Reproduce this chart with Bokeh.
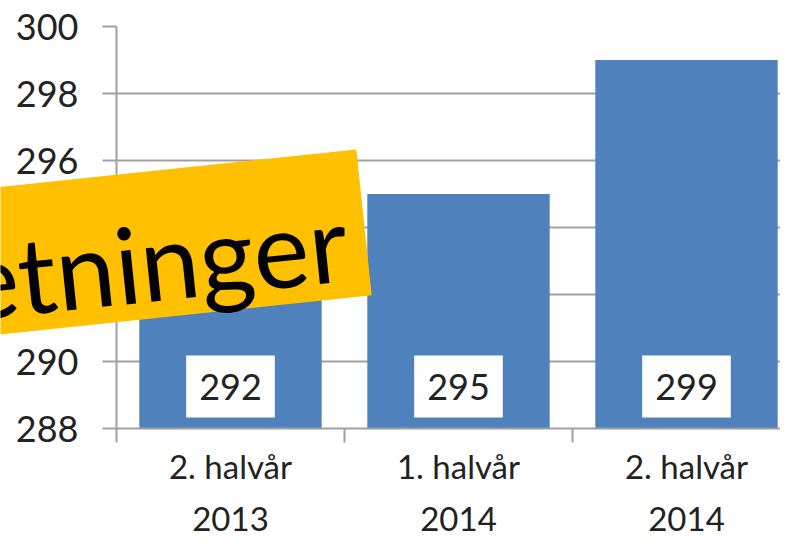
import math
from bokeh.plotting import figure
from bokeh.layouts import row
from bokeh.models import Range1d, FixedTicker, ColumnDataSource
from bokeh.core.properties import value
from bokeh.embed import file_html
from bokeh.resources import INLINE

categories = ["2. halvår\n2013", "1. halvår\n2014", "2. halvår\n2014"]
values = [292, 295, 299]
y_ticks = [288, 290, 292, 294, 296, 298, 300]
banner_text = "etninger"

FONT = "Lato"
GRID = "#A0A0A0"
TXT = "#222222"
W, H = 780, 540
B_LEFT, B_TOP, B_BOTTOM = 116, 26, 111
centers = [i + 0.5 for i in range(len(categories))]

p = figure(width=W, height=H, output_backend="svg", toolbar_location=None,
           x_range=Range1d(0, (W - B_LEFT) / 228), y_range=Range1d(288, 300),
           min_border_left=B_LEFT, min_border_right=0, min_border_top=B_TOP,
           min_border_bottom=B_BOTTOM)
p.outline_line_color = None

src = ColumnDataSource(dict(x=centers, top=values,
                            lab=[str(v) for v in values]))
p.vbar(x="x", top="top", bottom=288, width=0.8, source=src,
       fill_color="#4F81BD", line_color=None)

p.text(x="x", y=288, text="lab", source=src, y_offset=-42,
       text_align="center", text_baseline="middle",
       text_font=value(FONT), text_font_size="36px", text_color=TXT,
       background_fill_color="white", padding=(13, 18))

# axes
p.xgrid.visible = False
p.ygrid.grid_line_color = GRID
p.ygrid.grid_line_width = 2
p.yaxis.ticker = FixedTicker(ticks=y_ticks)
p.yaxis.axis_line_color = GRID
p.yaxis.axis_line_width = 2
p.yaxis.major_tick_line_color = GRID
p.yaxis.major_tick_line_width = 2
p.yaxis.major_tick_out = 14
p.yaxis.major_tick_in = 0
p.yaxis.minor_tick_line_color = None
p.yaxis.major_label_standoff = 24
p.yaxis.major_label_text_font = FONT
p.yaxis.major_label_text_font_size = "36px"
p.yaxis.major_label_text_color = TXT

p.xaxis.ticker = FixedTicker(ticks=centers, minor_ticks=[0, 1, 2, 3])
p.xaxis.major_label_overrides = {c: lab for c, lab in zip(centers, categories)}
p.xaxis.axis_line_color = GRID
p.xaxis.axis_line_width = 2
p.xaxis.major_tick_line_color = None
p.xaxis.major_tick_out = 0
p.xaxis.major_tick_in = 0
p.xaxis.minor_tick_line_color = GRID
p.xaxis.minor_tick_line_width = 2
p.xaxis.minor_tick_out = 14
p.xaxis.minor_tick_in = 0
p.xaxis.major_label_standoff = 3
p.xaxis.major_label_text_font = FONT
p.xaxis.major_label_text_font_size = "33px"
p.xaxis.major_label_text_color = TXT
p.xaxis.major_label_text_line_height = 1.3

# overlay figure in pixel coordinates (y up) for the banner that spills over the axis
ov = figure(width=W, height=H, output_backend="svg", toolbar_location=None,
            x_range=Range1d(0, W), y_range=Range1d(B_BOTTOM, H - B_TOP),
            min_border_left=0, min_border_right=0, min_border_top=B_TOP,
            min_border_bottom=B_BOTTOM, margin=(0, 0, 0, -W))
ov.axis.visible = False
ov.grid.visible = False
ov.outline_line_color = None
ov.background_fill_color = None
ov.border_fill_color = None

ang = math.radians(6)
bw, bh = 760, 147
rx, ry = 363.5, H - 222.5          # midpoint of the banner's right edge
cx = rx - bw / 2 * math.cos(ang)
cy = ry - bw / 2 * math.sin(ang)
ov.rect(x=[cx], y=[cy], width=bw, height=bh, angle=ang,
        fill_color="#FFC000", line_color=None)
tx, ty = 346.0, H - 240.0          # right end of the text line
ov.text(x=[tx], y=[ty], text=[banner_text], angle=ang,
        text_align="right", text_baseline="alphabetic",
        text_font=value(FONT), text_font_size="106px", text_color="black")

open("out.html", "w").write(file_html(row(p, ov, spacing=0), INLINE))
